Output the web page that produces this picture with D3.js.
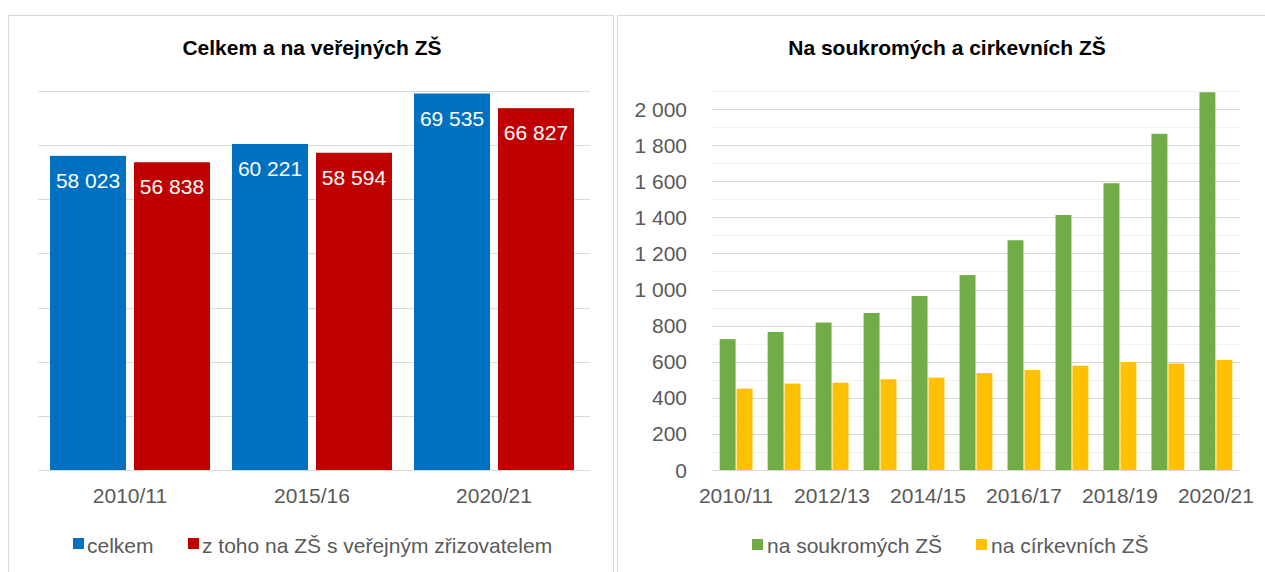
<!DOCTYPE html>
<html>
<head>
<meta charset="utf-8">
<script src="https://cdn.jsdelivr.net/npm/d3@7"></script>
<style>
  body { margin: 0; background: #fff; }
  svg { display: block; font-family: "Liberation Sans", Arial, sans-serif; }
</style>
</head>
<body>
<div id="chart"></div>
<script>
// 1. DATA
const leftCategories = ["2010/11", "2015/16", "2020/21"];
const leftSeries = ["celkem", "z toho na ZŠ s veřejným zřizovatelem"];
const celkem = [58023, 60221, 69535];
const verejne = [56838, 58594, 66827];

const rightCategories = ["2010/11", "2011/12", "2012/13", "2013/14", "2014/15", "2015/16",
    "2016/17", "2017/18", "2018/19", "2019/20", "2020/21"];
const rightSeries = ["na soukromých ZŠ", "na církevních ZŠ"];
const soukrome = [725, 765, 817, 870, 964, 1080, 1273, 1413, 1589, 1863, 2093];
const cirkevni = [451, 479, 484, 503, 512, 537, 554, 578, 598, 590, 610];
const rightTicks = [0, 200, 400, 600, 800, 1000, 1200, 1400, 1600, 1800, 2000];

// 2. SETUP
const width = 1265;
const height = 572;
const textGray = "#595959";
const gridColor = "#d9d9d9";
const minorGrid = "#f2f2f2";
const fs = "21px";

const fmt = d3.formatLocale({ decimal: ",", thousands: " ", grouping: [3], currency: ["", " Kč"] }).format(",d");

const svg = d3.select("#chart")
    .append("svg")
    .attr("width", width)
    .attr("height", height);

// panel frames
svg.append("rect").attr("x", 8.5).attr("y", 15.5).attr("width", 605).attr("height", 570)
    .attr("fill", "none").attr("stroke", gridColor);
svg.append("rect").attr("x", 617.5).attr("y", 15.5).attr("width", 660).attr("height", 570)
    .attr("fill", "none").attr("stroke", gridColor);

// 3. LEFT CHART
const baseY = 470;
const left = svg.append("g");

left.append("text")
    .attr("x", 312).attr("y", 55).attr("text-anchor", "middle")
    .style("font-size", "21px").style("font-weight", "bold").style("fill", "#000")
    .text("Celkem a na veřejných ZŠ");

const yL = d3.scaleLinear().domain([0, 70000]).range([baseY, 91]);
const x0L = d3.scaleBand().domain(leftCategories).range([39, 585])
    .paddingInner(0.121).paddingOuter(0.0605);
const x1L = d3.scaleBand().domain(leftSeries).range([0, x0L.bandwidth()]).paddingInner(0.095);
const colorL = d3.scaleOrdinal().domain(leftSeries).range(["#0070C0", "#C00000"]);

left.append("g").selectAll("line").data(d3.range(10000, 70001, 10000)).join("line")
    .attr("x1", 38).attr("x2", 590)
    .attr("y1", d => Math.round(yL(d)) + 0.5).attr("y2", d => Math.round(yL(d)) + 0.5)
    .attr("stroke", gridColor).attr("stroke-width", 1);

const leftRows = leftCategories.map((c, i) => ({ cat: c, values: [celkem[i], verejne[i]] }));

const lGroups = left.append("g").selectAll("g").data(leftRows).join("g")
    .attr("transform", d => `translate(${x0L(d.cat)},0)`);

lGroups.selectAll("rect").data(d => d.values.map((v, j) => ({ key: leftSeries[j], v }))).join("rect")
    .attr("x", d => x1L(d.key)).attr("width", x1L.bandwidth())
    .attr("y", d => yL(d.v)).attr("height", d => baseY - yL(d.v))
    .attr("fill", d => colorL(d.key));

lGroups.selectAll("text").data(d => d.values.map((v, j) => ({ key: leftSeries[j], v }))).join("text")
    .attr("x", d => x1L(d.key) + x1L.bandwidth() / 2)
    .attr("y", d => yL(d.v) + 32)
    .attr("text-anchor", "middle")
    .style("font-size", fs).style("fill", "#fff")
    .text(d => fmt(d.v));

left.append("line").attr("x1", 38).attr("x2", 590).attr("y1", baseY + 0.5).attr("y2", baseY + 0.5)
    .attr("stroke", gridColor);

left.append("g").selectAll("text").data(leftCategories).join("text")
    .attr("x", d => x0L(d) + x0L.bandwidth() / 2).attr("y", 503)
    .attr("text-anchor", "middle")
    .style("font-size", fs).style("fill", textGray)
    .text(d => d);

const legL = left.append("g");
const legLPos = [73, 188];
legL.selectAll("rect").data(leftSeries).join("rect")
    .attr("x", (d, i) => legLPos[i]).attr("y", 538).attr("width", 11).attr("height", 11)
    .attr("fill", d => colorL(d));
legL.selectAll("text").data(leftSeries).join("text")
    .attr("x", (d, i) => legLPos[i] + 14).attr("y", 552.5)
    .style("font-size", fs).style("fill", textGray)
    .text(d => d);

// 4. RIGHT CHART
const right = svg.append("g");

right.append("text")
    .attr("x", 947).attr("y", 55).attr("text-anchor", "middle")
    .style("font-size", "21px").style("font-weight", "bold").style("fill", "#000")
    .text("Na soukromých a cirkevních ZŠ");

const yR = d3.scaleLinear().domain([0, 2100]).range([baseY, 91]);
const x0R = d3.scaleBand().domain(rightCategories).range([712, 1240])
    .paddingInner(0.315).paddingOuter(0.16);
const x1R = d3.scaleBand().domain(rightSeries).range([0, x0R.bandwidth()]).paddingInner(0.06);
const colorR = d3.scaleOrdinal().domain(rightSeries).range(["#70AD47", "#FFC000"]);

// minor grid
right.append("g").selectAll("line").data(d3.range(100, 2101, 200)).join("line")
    .attr("x1", 712).attr("x2", 1240)
    .attr("y1", d => Math.round(yR(d)) + 0.5).attr("y2", d => Math.round(yR(d)) + 0.5)
    .attr("stroke", minorGrid);
// major grid
right.append("g").selectAll("line").data(rightTicks.slice(1)).join("line")
    .attr("x1", 712).attr("x2", 1240)
    .attr("y1", d => Math.round(yR(d)) + 0.5).attr("y2", d => Math.round(yR(d)) + 0.5)
    .attr("stroke", gridColor);

const rightRows = rightCategories.map((c, i) => ({ cat: c, values: [soukrome[i], cirkevni[i]] }));
const rGroups = right.append("g").selectAll("g").data(rightRows).join("g")
    .attr("transform", d => `translate(${x0R(d.cat)},0)`);
rGroups.selectAll("rect").data(d => d.values.map((v, j) => ({ key: rightSeries[j], v }))).join("rect")
    .attr("x", d => x1R(d.key)).attr("width", x1R.bandwidth())
    .attr("y", d => yR(d.v)).attr("height", d => baseY - yR(d.v))
    .attr("fill", d => colorR(d.key));

right.append("line").attr("x1", 712).attr("x2", 1240).attr("y1", baseY + 0.5).attr("y2", baseY + 0.5)
    .attr("stroke", gridColor);

// y labels
right.append("g").selectAll("text").data(rightTicks).join("text")
    .attr("x", 687).attr("y", d => yR(d) + 7.5)
    .attr("text-anchor", "end")
    .style("font-size", fs).style("fill", textGray)
    .text(d => fmt(d));

// x labels, every other category
right.append("g").selectAll("text").data(rightCategories.filter((d, i) => i % 2 === 0)).join("text")
    .attr("x", d => x0R(d) + x0R.bandwidth() / 2).attr("y", 503)
    .attr("text-anchor", "middle")
    .style("font-size", fs).style("fill", textGray)
    .text(d => d);

const legR = right.append("g");
const legRPos = [752, 976];
legR.selectAll("rect").data(rightSeries).join("rect")
    .attr("x", (d, i) => legRPos[i]).attr("y", 539).attr("width", 11).attr("height", 11)
    .attr("fill", d => colorR(d));
legR.selectAll("text").data(rightSeries).join("text")
    .attr("x", (d, i) => legRPos[i] + 15).attr("y", 552.5)
    .style("font-size", fs).style("fill", textGray)
    .text(d => d);
</script>
</body>
</html>
